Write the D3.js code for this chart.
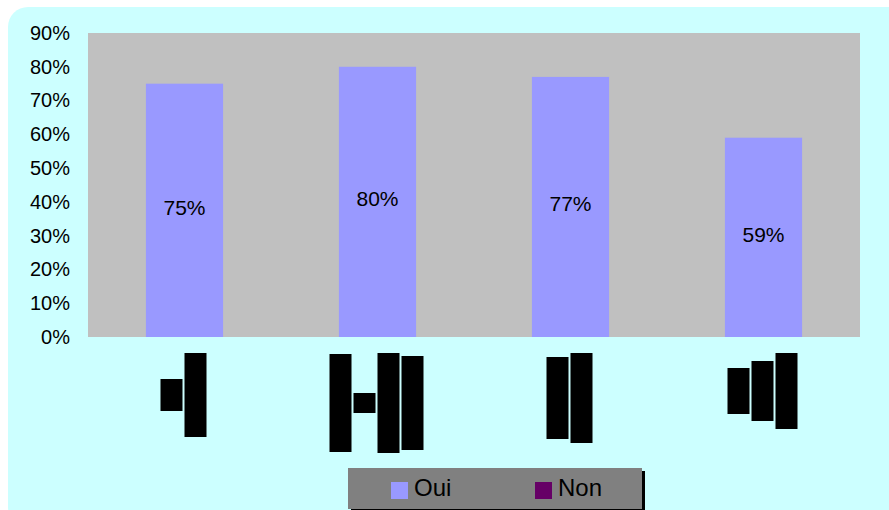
<!DOCTYPE html>
<html>
<head>
<meta charset="utf-8">
<script src="https://cdn.jsdelivr.net/npm/d3@7"></script>
<style>
  html, body { margin: 0; padding: 0; background: #ffffff; }
  svg { display: block; font-family: "Liberation Sans", Arial, sans-serif; }
</style>
</head>
<body>
<svg id="chart" width="889" height="510"></svg>
<script>
// ---- data ----
const categories = ["Cat 1", "Cat 2", "Cat 3", "Cat 4"];
const ouiValues = [0.75, 0.80, 0.77, 0.59];
const nonValues = [0, 0, 0, 0];
const seriesNames = ["Oui", "Non"];
const yTicks = [0, 0.1, 0.2, 0.3, 0.4, 0.5, 0.6, 0.7, 0.8, 0.9];
// unreadable (rendered as solid blocks) category labels: relative length of each rotated text line
const labelLineLengths = [
  [32, 84],
  [98, 20, 100, 94],
  [82, 90],
  [46, 60, 76]
];

// ---- layout ----
const W = 889, H = 510;
const plot = { left: 88, right: 860, top: 33, bottom: 337 };
const colors = { Oui: "#9999ff", Non: "#660066" };

const svg = d3.select("#chart");

// background frame
svg.append("rect")
  .attr("x", 8).attr("y", 7)
  .attr("width", 900).attr("height", 520)
  .attr("rx", 20).attr("ry", 20)
  .attr("fill", "#ccffff");

const x = d3.scaleBand().domain(categories).range([plot.left, plot.right]).paddingInner(0.6).paddingOuter(0.3);
const y = d3.scaleLinear().domain([0, 0.9]).range([plot.bottom, plot.top]);

// plot area
svg.append("rect")
  .attr("x", plot.left).attr("y", plot.top)
  .attr("width", plot.right - plot.left).attr("height", plot.bottom - plot.top)
  .attr("fill", "#c0c0c0");

// y axis
const yAxis = d3.axisLeft(y).tickValues(yTicks).tickFormat(d3.format(".0%")).tickSize(0).tickPadding(0);
const yg = svg.append("g").attr("transform", `translate(${70},0)`).call(yAxis);
yg.select(".domain").remove();
yg.selectAll("text").attr("font-size", 20).attr("fill", "#000").attr("font-family", "Liberation Sans, Arial, sans-serif");

// bars (Oui)
svg.append("g").selectAll("rect")
  .data(categories)
  .join("rect")
  .attr("x", d => x(d))
  .attr("width", x.bandwidth())
  .attr("y", (d, i) => y(ouiValues[i]))
  .attr("height", (d, i) => y(0) - y(ouiValues[i]))
  .attr("fill", colors.Oui);

// bars (Non) stacked on top (zero values -> invisible)
svg.append("g").selectAll("rect")
  .data(categories)
  .join("rect")
  .attr("x", d => x(d))
  .attr("width", x.bandwidth())
  .attr("y", (d, i) => y(ouiValues[i] + nonValues[i]))
  .attr("height", (d, i) => y(ouiValues[i]) - y(ouiValues[i] + nonValues[i]))
  .attr("fill", colors.Non);

// data labels
svg.append("g").selectAll("text")
  .data(categories)
  .join("text")
  .attr("x", d => x(d) + x.bandwidth() / 2)
  .attr("y", (d, i) => (y(ouiValues[i]) + y(0)) / 2 - 3)
  .attr("text-anchor", "middle")
  .attr("dominant-baseline", "central")
  .attr("font-size", 21)
  .attr("fill", "#000")
  .text((d, i) => d3.format(".0%")(ouiValues[i]));

// category labels (rendered as solid blocks of rotated text lines)
const lineW = 22, linePitch = 24, labelTop = 353;
const lg = svg.append("g");
categories.forEach((c, i) => {
  const lines = labelLineLengths[i];
  const maxLen = d3.max(lines);
  const groupW = lines.length * linePitch - (linePitch - lineW);
  const cx = x(c) + x.bandwidth() / 2 - 1;
  const left = cx - groupW / 2;
  lg.append("g").attr("class", "cat-label").selectAll("rect")
    .data(lines)
    .join("rect")
    .attr("x", (d, j) => left + j * linePitch)
    .attr("y", d => labelTop + (maxLen - d) / 2)
    .attr("width", lineW)
    .attr("height", d => d)
    .attr("fill", "#000");
  lg.append("title").text(c);
});

// legend
const legend = svg.append("g");
legend.append("rect").attr("x", 351).attr("y", 471).attr("width", 294).attr("height", 41).attr("fill", "#000");
legend.append("rect").attr("x", 348).attr("y", 468).attr("width", 294).attr("height", 41).attr("fill", "#808080");
const legendX = d3.scaleOrdinal().domain(seriesNames).range([391, 535]);
const items = legend.selectAll("g.item").data(seriesNames).join("g").attr("class", "item");
items.append("rect")
  .attr("x", d => legendX(d)).attr("y", 482)
  .attr("width", 17).attr("height", 17)
  .attr("fill", d => colors[d]);
items.append("text")
  .attr("x", d => legendX(d) + 23).attr("y", 496)
  .attr("font-size", 24)
  .attr("fill", "#000")
  .text(d => d);
</script>
</body>
</html>
